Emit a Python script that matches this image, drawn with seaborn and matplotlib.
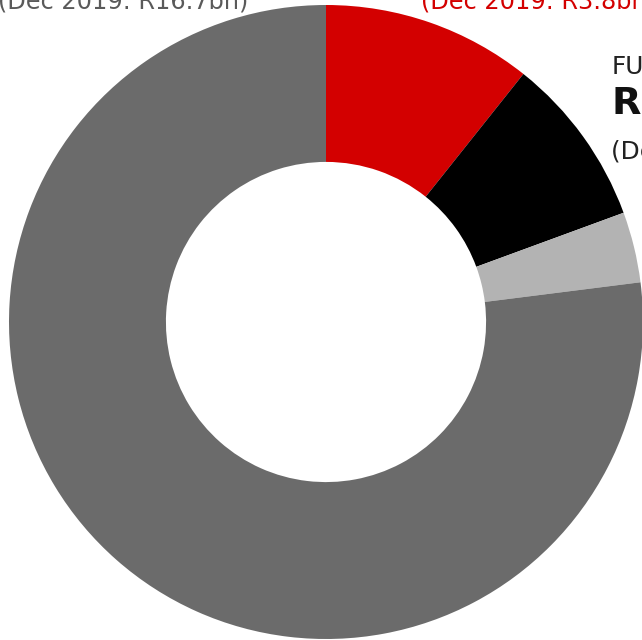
import matplotlib
matplotlib.use("Agg")
import matplotlib.pyplot as plt
import seaborn as sns

segments = ["Segment A", "Segment B", "Segment C", "Other"]
shares = [10.7, 8.7, 3.6, 77.0]
colors = ["#d30000", "#000000", "#b3b3b3", "#6b6b6b"]

left_note = "(Dec 2019: R16.7bn)"
red_note = "(Dec 2019: R3.8bn)"
side_labels = ["FUNDS", "R7.2bn", "(Dec 2019"]

sns.set_theme(style="white")
plt.rcParams["font.family"] = ["DejaVu Sans"]

W, H = 642, 640
fig = plt.figure(figsize=(W / 100, H / 100), dpi=100)
ax = fig.add_axes([0, 0, 1, 1])

# ring centre and outer radius in pixels
cx, cy, r = 326, 322, 317
ax.pie(shares, colors=colors, startangle=90, counterclock=False,
       radius=1, wedgeprops=dict(width=0.495, linewidth=0))
ax.set_xlim(-cx / r, (W - cx) / r)
ax.set_ylim(-(H - cy) / r, cy / r)
ax.set_aspect("auto")
ax.axis("off")

def px(x, y):
    return (x - cx) / r, (cy - y) / r

ax.text(*px(-2, 9), left_note, color="#5a5a5a", fontsize=17.3,
        ha="left", va="baseline", clip_on=False)
ax.text(*px(421, 9), red_note, color="#d30000", fontsize=17.3,
        ha="left", va="baseline", clip_on=False)
ax.text(*px(612, 74), side_labels[0], color="#222222", fontsize=17.8,
        ha="left", va="baseline")
ax.text(*px(611, 113), side_labels[1], color="#111111", fontsize=27.5,
        fontweight="bold", ha="left", va="baseline")
ax.text(*px(611, 159), side_labels[2], color="#222222", fontsize=17.8,
        ha="left", va="baseline")

fig.savefig("out.png", dpi=100)
